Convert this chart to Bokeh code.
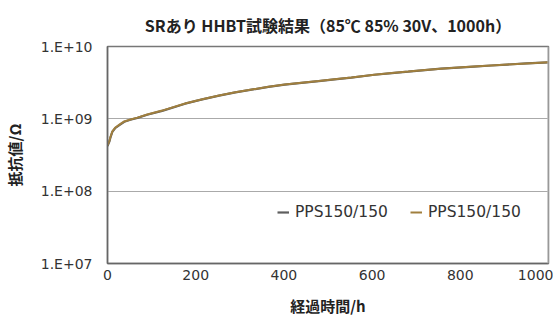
from bokeh.plotting import figure
from bokeh.models import (FixedTicker, CustomJSTickFormatter, Legend, LegendItem,
                          Span, Range1d)
from bokeh.embed import file_html
from bokeh.resources import INLINE

# ---- data ----
hours = [0, 4.5, 7, 11, 18, 27, 38, 52, 68, 90, 124, 176, 215, 253, 290, 327,
         365, 402, 440, 479, 515, 553, 605, 645, 682, 720, 756, 795, 831, 870,
         907, 950, 1000]
res_gold = [4.3e8, 5.0e8, 5.7e8, 6.7e8, 7.6e8, 8.3e8, 9.2e8, 9.8e8, 1.04e9,
            1.15e9, 1.30e9, 1.63e9, 1.87e9, 2.10e9, 2.33e9, 2.54e9, 2.77e9,
            2.98e9, 3.15e9, 3.33e9, 3.52e9, 3.73e9, 4.08e9, 4.30e9, 4.50e9,
            4.73e9, 4.94e9, 5.12e9, 5.29e9, 5.47e9, 5.64e9, 5.84e9, 6.05e9]
res_gray = [4.2e8, 4.9e8, 5.6e8, 6.6e8, 7.5e8, 8.2e8, 9.1e8, 9.7e8, 1.03e9,
            1.14e9, 1.29e9, 1.62e9, 1.86e9, 2.09e9, 2.32e9, 2.53e9, 2.76e9,
            2.97e9, 3.14e9, 3.32e9, 3.51e9, 3.72e9, 4.07e9, 4.29e9, 4.49e9,
            4.72e9, 4.93e9, 5.11e9, 5.28e9, 5.46e9, 5.63e9, 5.83e9, 6.03e9]
series_names = ["PPS150/150", "PPS150/150"]
y_ticks = [1e7, 1e8, 1e9, 1e10]
x_ticks = [0, 200, 400, 600, 800, 1000]
title_text = "SRあり HHBT試験結果（85℃ 85% 30V、1000h）"
x_label = "経過時間/h"
y_label = "抵抗値/Ω"

JP = "Noto Sans CJK JP"
NUM = "DejaVu Sans"

p = figure(width=553, height=318, y_axis_type="log",
           x_range=Range1d(0, 1000), y_range=Range1d(1e7, 1e10),
           output_backend="svg", toolbar_location=None,
           min_border_left=105, min_border_right=5, min_border_top=46,
           min_border_bottom=55)

p.title.text = title_text
p.title.text_font = JP
p.title.text_font_size = "16px"
p.title.text_font_style = "bold"
p.title.text_color = "#222222"
p.title.align = "center"
p.title.offset = -16
p.title.standoff = 20

p.outline_line_color = "#777777"
p.outline_line_width = 1.5
p.background_fill_color = "white"
p.border_fill_color = "white"

# axes
for ax in (p.xaxis, p.yaxis):
    ax.major_tick_line_color = None
    ax.minor_tick_line_color = None
    ax.major_tick_out = 0
    ax.major_tick_in = 0
    ax.axis_line_color = "#666666"
    ax.axis_line_width = 1.5
    ax.major_label_text_font = NUM
    ax.major_label_text_font_size = "14px"
    ax.major_label_text_color = "#333333"
    ax.axis_label_text_font = JP
    ax.axis_label_text_font_size = "15px"
    ax.axis_label_text_font_style = "bold"
    ax.axis_label_text_color = "#222222"

p.xaxis.ticker = FixedTicker(ticks=x_ticks)
p.yaxis.ticker = FixedTicker(ticks=y_ticks)
p.yaxis.formatter = CustomJSTickFormatter(code="""
const e = Math.round(Math.log10(tick));
return "1.E+" + (e < 10 ? "0" + e : "" + e);
""")
p.xaxis.axis_label = x_label
p.yaxis.axis_label = y_label
p.yaxis.major_label_standoff = 15
p.xaxis.major_label_standoff = 6
p.yaxis.axis_label_standoff = 13
p.xaxis.axis_label_standoff = 12

p.xgrid.visible = False
p.ygrid.ticker = FixedTicker(ticks=y_ticks[1:3])
p.ygrid.grid_line_color = "#aaaaaa"
p.ygrid.grid_line_width = 1

# right border lighter
p.add_layout(Span(location=x_ticks[-1], dimension="height",
                  line_color="#bbbbbb", line_width=2))

r1 = p.line(hours, res_gray, line_color="#5e5e5e", line_width=2.2)
r2 = p.line(hours, res_gold, line_color="#a07f3e", line_width=2)

legend = Legend(items=[LegendItem(label=series_names[0], renderers=[r1]),
                       LegendItem(label=series_names[1], renderers=[r2])],
                orientation="horizontal", location=(170, 42),
                background_fill_alpha=0, border_line_color=None,
                label_text_font=NUM, label_text_font_size="15.5px",
                label_text_color="#333333", glyph_width=12, glyph_height=14,
                label_standoff=6, spacing=22, padding=4, margin=0)
p.add_layout(legend)

open("out.html", "w").write(file_html(p, INLINE))
